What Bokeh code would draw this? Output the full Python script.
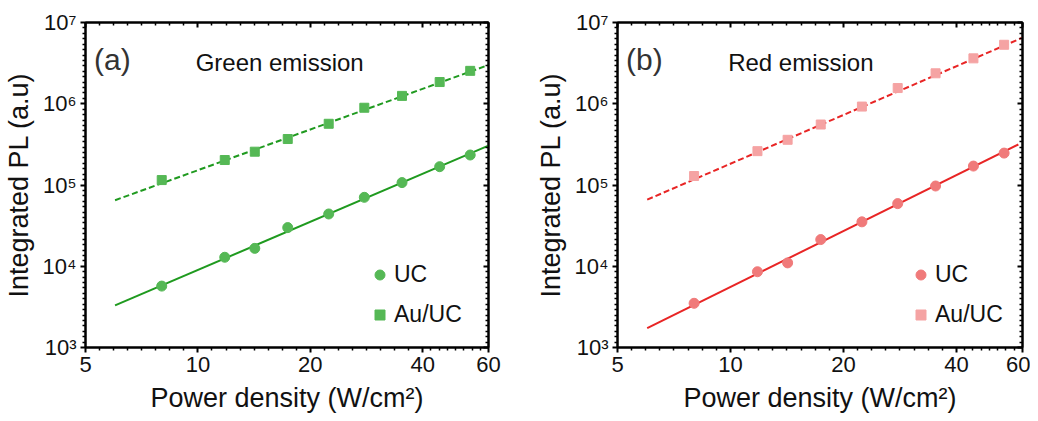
import numpy as np
from bokeh.plotting import figure
from bokeh.models import (Range1d, FixedTicker, LogAxis, Label, Legend, LegendItem,
                          ColumnDataSource)
from bokeh.layouts import row
from bokeh.embed import file_html
from bokeh.resources import INLINE

# ---------------- data ----------------
power = [8.0, 11.8, 14.2, 17.4, 22.4, 27.9, 35.2, 44.4, 53.6]
green_uc = [5.7e3, 1.29e4, 1.66e4, 2.99e4, 4.4e4, 7.05e4, 1.07e5, 1.68e5, 2.34e5]
green_au = [1.15e5, 2.03e5, 2.57e5, 3.68e5, 5.67e5, 8.93e5, 1.25e6, 1.85e6, 2.54e6]
red_uc = [3.5e3, 8.56e3, 1.10e4, 2.13e4, 3.52e4, 5.9e4, 9.72e4, 1.71e5, 2.47e5]
red_au = [1.29e5, 2.61e5, 3.6e5, 5.55e5, 9.23e5, 1.56e6, 2.37e6, 3.62e6, 5.32e6]

green_uc_fit_x = [6.0, 60.0]
green_uc_fit_y = [3.3e3, 3.05e5]
green_au_fit_x = [6.0, 60.0]
green_au_fit_y = [6.5e4, 3.0e6]
red_uc_fit_x = [6.0, 58.5]
red_uc_fit_y = [1.73e3, 3.15e5]
red_au_fit_x = [6.0, 60.0]
red_au_fit_y = [6.6e4, 6.5e6]

x_ticks = [5, 10, 20, 40, 60]
x_tick_labels = ["5", "10", "20", "40", "60"]
y_ticks = [1e3, 1e4, 1e5, 1e6, 1e7]
y_tick_labels = ["10\u00b3", "10\u2074", "10\u2075", "10\u2076", "10\u2077"]

FONT = "Liberation Sans"

# minor tick positions (styling only)
x_minor = []
for a, b in zip(x_ticks[:-1], x_ticks[1:]):
    la, lb = np.log10(a), np.log10(b)
    x_minor += [float(10 ** (la + (lb - la) * k / 8)) for k in range(1, 8)]
y_minor = []
for a, b in zip(y_ticks[:-1], y_ticks[1:]):
    la, lb = np.log10(a), np.log10(b)
    y_minor += [float(10 ** (la + (lb - la) * k / 15)) for k in range(1, 15)]


def style_axis(ax, labels, inward=False, show_labels=True):
    ax.axis_line_width = 2
    ax.axis_line_color = "black"
    ax.major_tick_line_width = 2
    ax.minor_tick_line_width = 1.5
    ax.major_tick_line_color = "black"
    ax.minor_tick_line_color = "black"
    if inward:
        ax.major_tick_in, ax.major_tick_out = 5, 0
        ax.minor_tick_in, ax.minor_tick_out = 3, 0
    else:
        ax.major_tick_in, ax.major_tick_out = 0, 5
        ax.minor_tick_in, ax.minor_tick_out = 0, 3
    if show_labels:
        ax.major_label_overrides = labels
        ax.major_label_text_font = FONT
        ax.major_label_text_font_size = "22px"
        ax.major_label_text_color = "#111111"
        ax.major_label_text_line_height = 1.0
        ax.major_label_standoff = 4
    else:
        ax.major_label_text_font_size = "0px"
        ax.major_label_text_alpha = 0
        ax.major_label_standoff = 0


def make_panel(letter, title, uc, au, uc_fx, uc_fy, au_fx, au_fy,
               line_color, uc_color, au_color, frame_w, border_r, legend_x):
    p = figure(x_axis_type="log", y_axis_type="log",
               x_range=Range1d(5, 60), y_range=Range1d(1e3, 1e7),
               frame_width=frame_w, frame_height=325,
               min_border_left=79, min_border_right=border_r,
               min_border_top=22, min_border_bottom=58,
               toolbar_location=None, output_backend="svg",
               background_fill_color="white", border_fill_color="white")
    p.grid.visible = False
    p.outline_line_color = "black"
    p.outline_line_width = 2

    xlab = {float(t): s for t, s in zip(x_ticks, x_tick_labels)}
    ylab = {float(t): s for t, s in zip(y_ticks, y_tick_labels)}

    bottom = p.below[0]
    left = p.left[0]
    bottom.ticker = FixedTicker(ticks=x_ticks, minor_ticks=x_minor)
    left.ticker = FixedTicker(ticks=y_ticks, minor_ticks=y_minor)
    style_axis(bottom, xlab)
    style_axis(left, ylab)

    top = LogAxis(ticker=FixedTicker(ticks=x_ticks, minor_ticks=x_minor))
    style_axis(top, xlab, inward=True, show_labels=False)
    p.add_layout(top, "above")
    right = LogAxis(ticker=FixedTicker(ticks=y_ticks, minor_ticks=y_minor))
    style_axis(right, ylab, inward=True, show_labels=False)
    p.add_layout(right, "right")

    bottom.axis_label = "Power density (W/cm\u00b2)"
    left.axis_label = "Integrated PL (a.u)"
    for ax in (bottom, left):
        ax.axis_label_text_font = FONT
        ax.axis_label_text_font_size = "27px"
        ax.axis_label_text_font_style = "normal"
        ax.axis_label_text_color = "#111111"
        ax.axis_label_text_line_height = 1.0
    bottom.axis_label_standoff = 8
    left.axis_label_standoff = 6

    p.line(uc_fx, uc_fy, line_color=line_color, line_width=2)
    p.line(au_fx, au_fy, line_color=line_color, line_width=2, line_dash="6 3")

    src_uc = ColumnDataSource(dict(x=power, y=uc))
    src_au = ColumnDataSource(dict(x=power, y=au))
    r_uc = p.scatter("x", "y", source=src_uc, marker="circle", size=10,
                     fill_color=uc_color, line_color=uc_color)
    r_au = p.scatter("x", "y", source=src_au, marker="square", size=9,
                     fill_color=au_color, line_color=au_color)

    legend = Legend(items=[LegendItem(label="UC", renderers=[r_uc]),
                           LegendItem(label="Au/UC", renderers=[r_au])],
                    location=(legend_x, 19))
    legend.border_line_color = None
    legend.background_fill_alpha = 0
    legend.padding = 0
    legend.margin = 0
    legend.glyph_width = 25
    legend.glyph_height = 25
    legend.label_height = 25
    legend.spacing = 13
    legend.label_standoff = 2
    legend.label_text_font = FONT
    legend.label_text_font_size = "23px"
    legend.label_text_color = "#111111"
    p.add_layout(legend)

    p.add_layout(Label(x=5.27, y=10 ** 6.545, text=letter, text_font=FONT,
                       text_font_size="30px", text_color="#333333",
                       text_baseline="alphabetic"))
    p.add_layout(Label(x=9.86, y=10 ** 6.508, text=title, text_font=FONT,
                       text_font_size="24px", text_color="#111111",
                       text_baseline="alphabetic"))
    return p


p1 = make_panel("(a)", "Green emission", green_uc, green_au,
                green_uc_fit_x, green_uc_fit_y, green_au_fit_x, green_au_fit_y,
                "#1f9a1f", "#55b855", "#55b855", 403, 44, 282)
p2 = make_panel("(b)", "Red emission", red_uc, red_au,
                red_uc_fit_x, red_uc_fit_y, red_au_fit_x, red_au_fit_y,
                "#e82525", "#f07a7a", "#f5a3a3", 405, 8, 291)

layout = row(p1, p2)
open("out.html", "w").write(file_html(layout, INLINE))
